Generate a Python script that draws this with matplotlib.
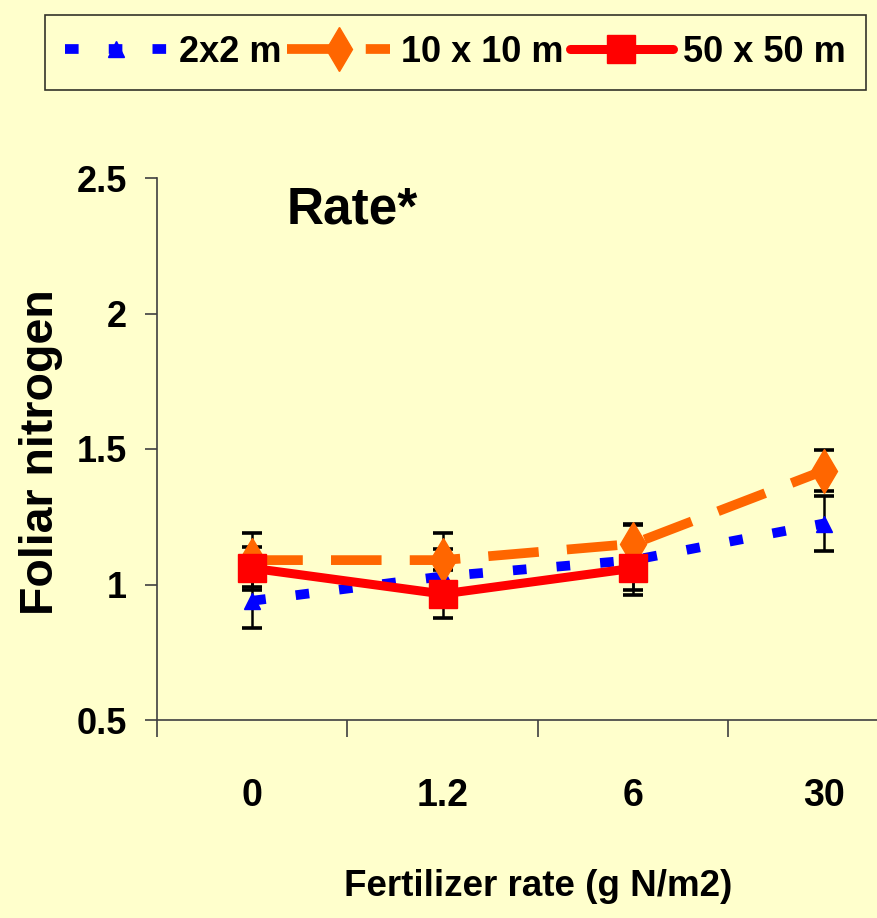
"""Foliar nitrogen vs fertilizer rate, three plot sizes (2x2, 10x10, 50x50 m)."""
import numpy as np
import matplotlib
matplotlib.use("Agg")
import matplotlib.pyplot as plt
from matplotlib import font_manager

# --- data ---
rates = ["0", "1.2", "6", "30"]
n_2x2 = [0.94, 1.03, 1.09, 1.225]
err_2x2 = [0.10, 0.10, 0.13, 0.10]
n_10x10 = [1.09, 1.09, 1.15, 1.42]
err_10x10 = [0.10, 0.10, 0.075, 0.075]
n_50x50 = [1.06, 0.965, 1.06, np.nan]
err_50x50 = [0.08, 0.09, 0.08, np.nan]
labels = ["2x2 m", "10 x 10 m", "50 x 50 m"]

BG = "#FFFFCC"
BLUE, ORANGE, RED = "#0000FF", "#FF6600", "#FF0000"

names = {f.name for f in font_manager.fontManager.ttflist}
WIDE = "Liberation Sans"
if "Liberation Sans Narrow" in names:
    NARROW = "Liberation Sans Narrow"
    sz = dict(ytick=30, xtick=31, xlabel=31, legend=32)
else:
    # pas de police étroite : Liberation Sans un peu plus petite, largeurs comparables
    NARROW = "Liberation Sans"
    sz = dict(ytick=26, xtick=27, xlabel=26.5, legend=26)

W, H = 878, 918
fig = plt.figure(figsize=(W / 100, H / 100), dpi=100, facecolor=BG)
ax = fig.add_axes([157 / W, (H - 720) / H, 762 / W, 542 / H], facecolor=BG)

x = np.arange(len(rates))

# barres d'erreur sous les marqueurs
for y, e in ((n_2x2, err_2x2), (n_10x10, err_10x10), (n_50x50, err_50x50)):
    ax.errorbar(x, y, yerr=e, fmt="none", ecolor="black", elinewidth=1.8,
                capsize=7, capthick=2.6, zorder=2)

l1, = ax.plot(x, n_2x2, color=BLUE, lw=7, linestyle=(0, (1.4, 3.1)),
              dash_capstyle="butt", marker="^", ms=12, mfc=BLUE, mec=BLUE, zorder=3)
l2, = ax.plot(x, n_10x10, color=ORANGE, lw=7, linestyle=(0, (5.2, 2.9)),
              dash_capstyle="butt", marker="d", ms=22, mfc=ORANGE, mec=ORANGE, zorder=4)
l3, = ax.plot(x, n_50x50, color=RED, lw=6.5, solid_capstyle="round",
              marker="s", ms=20, mfc=RED, mec=RED, zorder=5)

ax.set_xlim(-0.5, 3.5)
ax.set_ylim(0.5, 2.5)
ax.set_yticks([0.5, 1, 1.5, 2, 2.5])
ax.set_yticklabels(["0.5", "1", "1.5", "2", "2.5"])
ax.set_xticks(x)
ax.set_xticklabels(rates)
ax.set_xticks(np.arange(-0.5, 4.0, 1.0), minor=True)

for s in ("top", "right"):
    ax.spines[s].set_visible(False)
for s in ("left", "bottom"):
    ax.spines[s].set_color("#404040")
    ax.spines[s].set_linewidth(1.2)

ax.tick_params(axis="y", which="major", direction="out", length=8.6, width=1.2,
               color="#404040", pad=13)
ax.tick_params(axis="x", which="major", length=0, pad=42)
ax.tick_params(axis="x", which="minor", direction="out", length=12, width=1.2,
               color="#404040")
for t in ax.get_yticklabels():
    t.set_fontfamily(NARROW)
    t.set_fontweight("bold")
    t.set_fontsize(sz["ytick"])
for t in ax.get_xticklabels():
    t.set_fontfamily(NARROW)
    t.set_fontweight("bold")
    t.set_fontsize(sz["xtick"])

fig.text(41 / W, 1 - 452 / H, "Foliar nitrogen", rotation=90, ha="center", va="center",
         fontfamily=WIDE, fontweight="bold", fontsize=33.5)
fig.text(538 / W, 1 - 887 / H, "Fertilizer rate (g N/m2)", ha="center", va="center",
         fontfamily=NARROW, fontweight="bold", fontsize=sz["xlabel"])
fig.text(287 / W, 1 - 223 / H, "Rate*", ha="left", va="baseline",
         fontfamily=WIDE, fontweight="bold", fontsize=37)

leg = fig.legend([l1, l2, l3], labels, ncol=3, loc="center",
                 bbox_to_anchor=(45 / W, 1 - 92 / H, 821 / W, 79 / H), mode="expand",
                 prop={"family": NARROW, "weight": "bold", "size": sz["legend"]},
                 handlelength=2.85, handletextpad=0.3, columnspacing=0.4,
                 borderpad=0.55, borderaxespad=0, fancybox=False, frameon=True)
leg.get_frame().set_facecolor(BG)
leg.get_frame().set_edgecolor("black")
leg.get_frame().set_linewidth(1.2)

fig.savefig("out.png", dpi=100, facecolor=BG)
